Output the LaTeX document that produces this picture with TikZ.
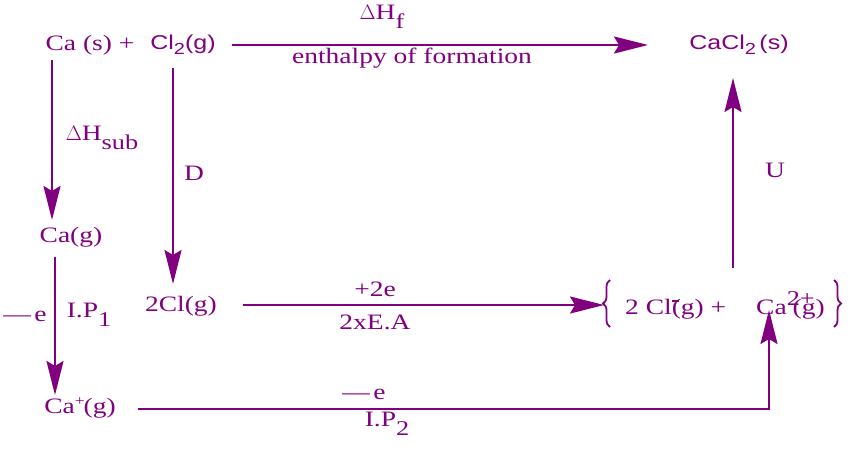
\documentclass[tikz,border=0pt]{standalone}
\usepackage{fontspec}
\setmainfont{Liberation Serif}[FakeStretch=1.25]
\newfontfamily\sansf{Liberation Sans}[FakeStretch=1.25]
\usetikzlibrary{arrows.meta,decorations.pathreplacing}
\definecolor{pur}{HTML}{800080}
\newcommand{\lowsub}[1]{\raisebox{-0.85ex}{\fontsize{21}{21}\selectfont #1}}
\newcommand{\chemsub}[1]{\raisebox{-0.45ex}{\fontsize{16}{16}\selectfont #1}}
\tikzset{
  lbl/.style={text=pur, inner sep=1pt, font=\fontsize{22}{26}\selectfont},
  slbl/.style={text=pur, inner sep=1pt, font=\fontsize{20}{24}\selectfont\sansf},
  arr/.style={draw=pur, line width=2pt, -{Stealth[length=34pt,width=17pt,inset=5pt]}},
  brc/.style={draw=pur, line width=1.8pt, decorate, decoration={brace, amplitude=7pt}},
}
\begin{document}
\begin{tikzpicture}[x=1pt,y=-1pt]
\useasboundingbox (0,0) rectangle (850,450);
% species
\node[lbl] (casp) at (90,45) {Ca (s) +};
\node[slbl] (cl2) at (183,45) {Cl\chemsub{2}(g)};
\node[slbl] (cacl2) at (739,45) {CaCl\chemsub{2}\,(s)};
\node[lbl] (cag) at (71,237) {Ca(g)};
\node[lbl] (twocl) at (181,306) {2Cl(g)};
\node[lbl] (grp) at (725,305) {2 Cl\rlap{\raisebox{1.25ex}{\rule{7pt}{1.6pt}}}(g) +\hspace{30pt}Ca\raisebox{0.9ex}{\fontsize{21}{21}\selectfont 2+}\hspace{-22pt}(g)};
\node[lbl] (caplus) at (80,408) {Ca\raisebox{0.8ex}{\fontsize{14}{14}\selectfont +}\hspace{-1pt}(g)};
% braces
\coordinate (lb1) at (610,327);
\coordinate (lb2) at (610,280);
\coordinate (rb1) at (834,280);
\coordinate (rb2) at (834,327);
\draw[brc] (lb1) -- (lb2);
\draw[brc] (rb1) -- (rb2);
% coordinates for connector ends
\coordinate (t1) at (232,45);
\coordinate (t2) at (648,45);
\coordinate (a1) at (52,60);
\coordinate (a2) at (52,220);
\coordinate (b1) at (173,68);
\coordinate (b2) at (173,284);
\coordinate (c1) at (55,257);
\coordinate (c2) at (55,395);
\coordinate (d1) at (243,305);
\coordinate (d2) at (604,305);
\coordinate (u1) at (733,268);
\coordinate (u2) at (733,78);
\coordinate (e1) at (138,409);
\coordinate (e2) at (769,310);
% connectors
\draw[arr] (t1) -- (t2);
\draw[arr] (a1) -- (a2);
\draw[arr] (b1) -- (b2);
\draw[arr] (c1) -- (c2);
\draw[arr] (d1) -- (d2);
\draw[arr] (u1) -- (u2);
\draw[arr] (e1) -| (e2);
% labels
\node[lbl] (dhf) at (382,17) {$\Delta$H\lowsub{f}};
\node[lbl] (enth) at (412,58) {enthalpy of formation};
\node[lbl] (dhs) at (102,138) {$\Delta$H\lowsub{sub}};
\node[lbl] (dl) at (194,173) {D};
\node[lbl] (me1) at (25,316) {\textemdash\,e};
\node[lbl] (ip1) at (89,315) {I.P\lowsub{1}};
\node[lbl] (p2e) at (375,289) {+2e};
\node[lbl] (ea) at (375,322) {2xE.A};
\node[lbl] (ul) at (775,170) {U};
\node[lbl] (me2) at (364,394) {\textemdash\,e};
\node[lbl] (ip2) at (387,424) {I.P\lowsub{2}};
\end{tikzpicture}
\end{document}
